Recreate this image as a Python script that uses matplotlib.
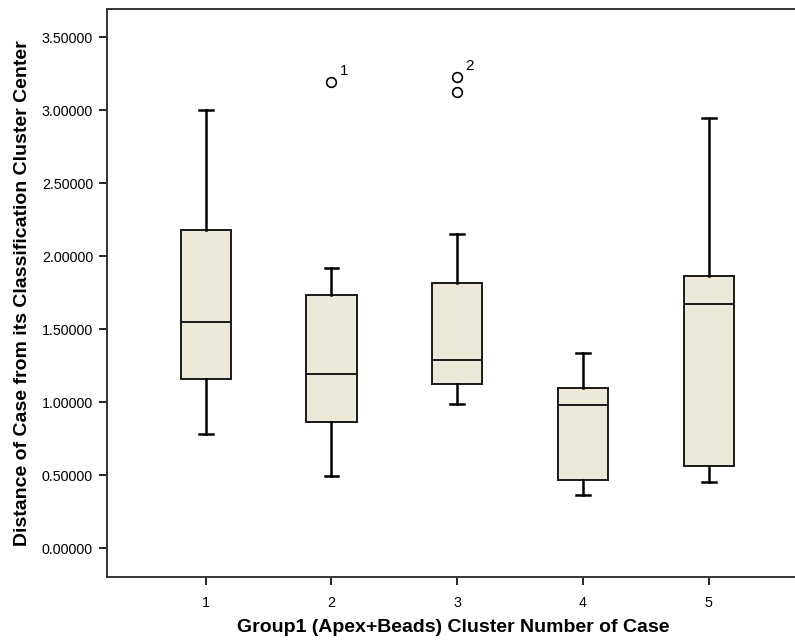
import matplotlib
matplotlib.use("Agg")
from matplotlib import pyplot as plt

plt.rcParams["font.family"] = ["Liberation Sans", "DejaVu Sans"]

# box statistics
clusters = [1, 2, 3, 4, 5]
whislo = [0.785, 0.493, 0.990, 0.367, 0.456]
q1 = [1.157, 0.865, 1.123, 0.465, 0.563]
med = [1.551, 1.195, 1.289, 0.979, 1.675]
q3 = [2.179, 1.732, 1.816, 1.097, 1.862]
whishi = [3.000, 1.917, 2.152, 1.337, 2.948]
fliers = [[], [3.194], [3.224, 3.126], [], []]
flier_labels = {1: ["1"], 2: ["2", ""]}

stats = []
for i in range(len(clusters)):
    stats.append({"whislo": whislo[i], "q1": q1[i], "med": med[i], "q3": q3[i],
                  "whishi": whishi[i], "fliers": fliers[i], "label": str(clusters[i])})

fig = plt.figure(figsize=(7.95, 6.42), dpi=100)
ax = fig.add_axes([107 / 795, 1 - 576.7 / 642, 700.5 / 795, 567.7 / 642])

ax.bxp(stats, positions=clusters, widths=0.4, capwidths=0.11, patch_artist=True,
       boxprops=dict(facecolor="#ECE9D9", edgecolor="#1a1a1a", linewidth=1.4),
       medianprops=dict(color="#1a1a1a", linewidth=1.4),
       whiskerprops=dict(color="black", linewidth=1.8),
       capprops=dict(color="black", linewidth=1.8),
       flierprops=dict(marker="o", markerfacecolor="white", markeredgecolor="black",
                       markersize=7, markeredgewidth=1.2))

for idx, labs in flier_labels.items():
    for val, lab in zip(fliers[idx], labs):
        if lab:
            ax.annotate(lab, (clusters[idx], val), xytext=(6, 3), textcoords="offset points",
                        fontsize=11, ha="left", va="bottom")

ax.set_xlim(0.215, 5.785)
ax.set_ylim(-0.194, 3.692)
ax.set_yticks([0, 0.5, 1.0, 1.5, 2.0, 2.5, 3.0, 3.5])
ax.set_yticklabels(["%.5f" % v for v in ax.get_yticks()])
ax.set_xticks(clusters)
ax.set_xticklabels([str(c) for c in clusters])
ax.tick_params(axis="both", labelsize=10.3, length=6, width=1.2, direction="out")
ax.tick_params(axis="x", pad=8)
ax.tick_params(axis="y", pad=4)

for side in ["left", "bottom", "top", "right"]:
    ax.spines[side].set_linewidth(1.4)
    ax.spines[side].set_color("#333333")

ax.set_xlabel("Group1 (Apex+Beads) Cluster Number of Case", fontsize=14, fontweight="bold")
ax.set_ylabel("Distance of Case from its Classification Cluster Center", fontsize=14, fontweight="bold")
ax.xaxis.set_label_coords(0.4944, -0.0745)
ax.yaxis.set_label_coords(-0.109, 0.5)

fig.savefig("out.png", dpi=100)
